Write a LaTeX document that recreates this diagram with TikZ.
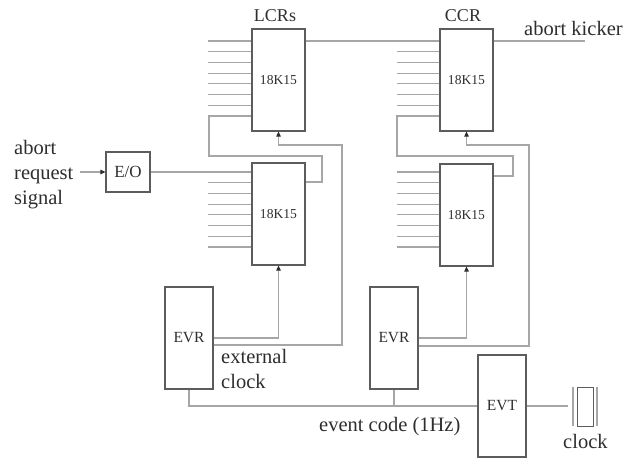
\documentclass[tikz,border=0pt]{standalone}
\usepackage{fontspec}
\setmainfont{Liberation Serif}
\usetikzlibrary{arrows.meta,calc}
\definecolor{wirec}{HTML}{A6A6A6}
\definecolor{edgec}{HTML}{5C5C5C}
\definecolor{inkc}{HTML}{2E2E2E}
\begin{document}
\begin{tikzpicture}[x=1pt,y=-1pt,
  wire/.style={draw=wirec,line width=1.1pt},
  tip/.style={-{Triangle[length=5pt,width=4.5pt,color=inkc]}},
  boxbase/.style={draw=edgec,line width=1.2pt,inner sep=0pt,text=inkc},
  reg/.style={boxbase,minimum width=53pt,minimum height=102pt,font=\fontsize{13.6}{16}\selectfont},
  evbox/.style={boxbase,minimum width=48pt,minimum height=102pt,font=\fontsize{15.5}{18}\selectfont},
  eobox/.style={boxbase,minimum width=44pt,minimum height=40pt,font=\fontsize{17}{20}\selectfont},
  head/.style={inner sep=0pt,text=inkc,font=\fontsize{18}{21}\selectfont},
  lab/.style={inner sep=0pt,text=inkc,font=\fontsize{20.5}{25}\selectfont},
]
\useasboundingbox (0,0) rectangle (630,461);

% registers and timing boxes
\node[reg] (lcrA) at (278.5,80) {18K15};
\node[reg] (lcrB) at (278.5,214) {18K15};
\node[reg] (ccrA) at (466.5,80) {18K15};
\node[reg] (ccrB) at (466.5,215) {18K15};
\node[eobox] (eo) at (128,172) {E/O};
\node[evbox] (evrA) at (189,338) {EVR};
\node[evbox] (evrB) at (394,338) {EVR};
\node[evbox] (evt) at (502,406) {EVT};
\node[draw=edgec,line width=1pt,minimum width=16pt,minimum height=39pt,inner sep=0pt] (xtal) at (585,406.5) {};

% labels
\node[head,anchor=base] (lcrlab) at (275,21) {LCRs};
\node[head,anchor=base] (ccrlab) at (463,21) {CCR};
\node[lab,anchor=base west] (kick) at (524,35) {abort kicker};
\node[lab,anchor=base west] (reqA) at (14,154) {abort};
\node[lab,anchor=base west] (reqB) at (14,179) {request};
\node[lab,anchor=base west] (reqC) at (14,204) {signal};
\node[lab,anchor=base west] (extA) at (221,363) {external};
\node[lab,anchor=base west] (extB) at (221,388) {clock};
\node[lab,anchor=base west] (evcode) at (319,431) {event code (1Hz)};
\node[lab,anchor=base west] (clklab) at (563,448) {clock};

% bend points
\coordinate (kickend) at (585,41);
\coordinate (lcrLoopR) at (322,156);
\coordinate (lcrLoopL) at (209,116);
\coordinate (ccrLoopR) at (513,156);
\coordinate (ccrLoopL) at (397,116);
\coordinate (lcrClk) at (342,145);
\coordinate (ccrClk) at (529,145);
\coordinate (xtalin) at (568,406);

% input stubs
\foreach \k in {0,...,6}
  \draw[wire] (lcrA.west |- 0,{41+10.71*\k}) -- ++(-43,0);
\foreach \k in {1,...,7}
  \draw[wire] (lcrB.west |- 0,{172+10.71*\k}) -- ++(-43,0);
\foreach \k in {1,...,6}
  \draw[wire] (ccrA.west |- 0,{41+10.71*\k}) -- ++(-42,0);
\foreach \k in {0,...,7}
  \draw[wire] (ccrB.west |- 0,{172+10.71*\k}) -- ++(-42,0);

% signal path
\draw[wire,tip] ($(reqB.east |- eo.west)+(6,0)$) -- (eo.west);
\draw[wire] (eo.east) -- (lcrB.west |- eo.east);
\draw[wire] (lcrB.east |- 0,182) -| (lcrLoopR) -| (lcrLoopL) -- (lcrA.west |- lcrLoopL);
\draw[wire] (lcrA.east |- kickend) -- (ccrA.west |- kickend);
\draw[wire] (ccrB.east |- 0,176) -| (ccrLoopR) -| (ccrLoopL) -- (ccrA.west |- ccrLoopL);
\draw[wire] (ccrA.east |- kickend) -- (kickend);

% clocks from the receivers
\draw[wire,tip] (evrA.east |- 0,345) -| (lcrClk) -| (lcrA.south);
\draw[wire,tip] (evrA.east |- 0,338) -| (lcrB.south);
\draw[wire,tip] (evrB.east |- 0,346) -| (ccrClk) -| (ccrA.south);
\draw[wire,tip] (evrB.east |- 0,338) -| (ccrB.south);

% event bus
\draw[wire] (evrA.south) |- (evt.west);
\draw[wire] (evrB.south) -- (evrB.south |- evt.west);
\draw[wire] (evt.east) -- (xtalin);

% crystal plates
\draw[wire] (573,387) -- (573,426);
\draw[wire] (597,387) -- (597,426);
\end{tikzpicture}
\end{document}
